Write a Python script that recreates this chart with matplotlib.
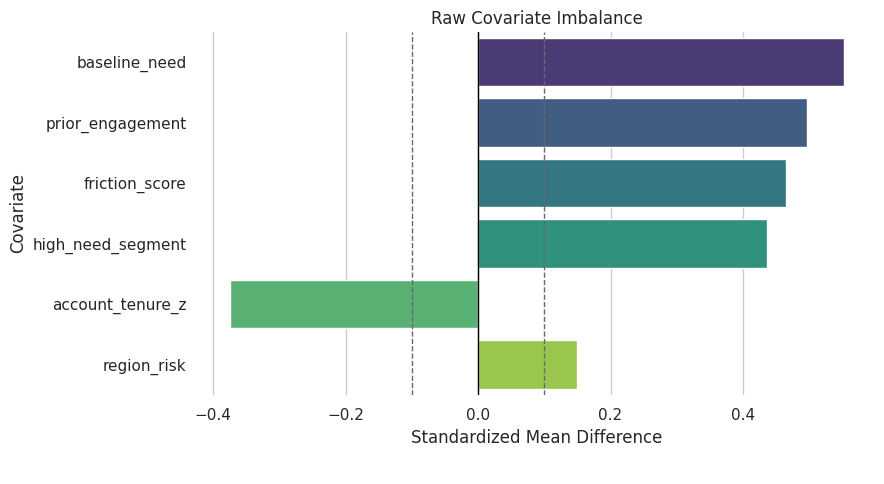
import matplotlib
matplotlib.use("Agg")
import matplotlib.pyplot as plt
import seaborn as sns
import pandas as pd

covariates = ["baseline_need", "prior_engagement", "friction_score",
              "high_need_segment", "account_tenure_z", "region_risk"]
smd = [0.552, 0.497, 0.465, 0.436, -0.374, 0.150]

sns.set_theme(style="whitegrid")
df = pd.DataFrame({"covariate": covariates, "smd": smd})

fig, ax = plt.subplots(figsize=(8.84, 4.84), dpi=100)
sns.barplot(data=df, x="smd", y="covariate", hue="covariate",
            palette="viridis", legend=False, ax=ax)
ax.axvline(0, color="black", linewidth=1)
ax.axvline(0.1, color="#666677", linestyle="--", linewidth=1)
ax.axvline(-0.1, color="#666677", linestyle="--", linewidth=1)
for s in ax.spines.values():
    s.set_visible(False)
ax.set_title("Raw Covariate Imbalance")
ax.set_xlabel("Standardized Mean Difference")
ax.set_ylabel("Covariate")
fig.subplots_adjust(left=0.226, right=0.989, top=0.934, bottom=0.184)
fig.savefig("out.png")
